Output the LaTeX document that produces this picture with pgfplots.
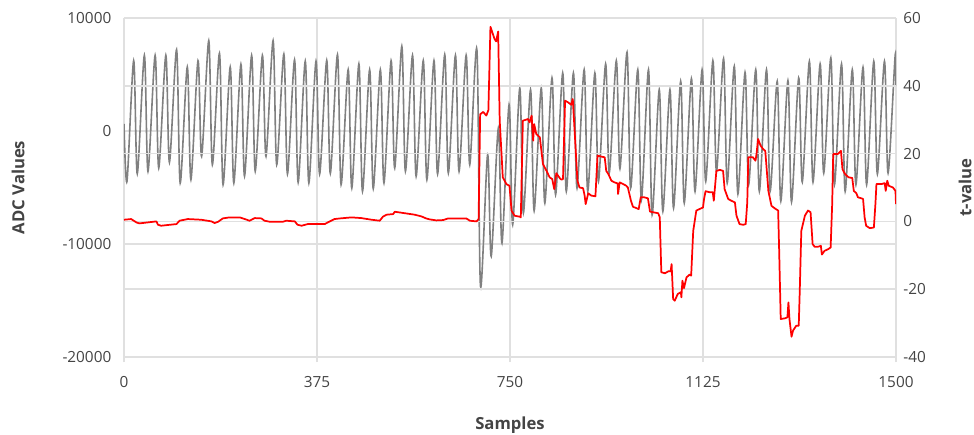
\documentclass[border=0pt]{standalone}
\usepackage{fontspec}
\setmainfont{Open Sans}
\usepackage{pgfplots}
\pgfplotsset{compat=1.18}
\definecolor{gridgray}{RGB}{224,224,224}
\definecolor{sig}{RGB}{128,128,128}
\definecolor{txt}{RGB}{68,68,68}

\pgfplotsset{
  base/.style={
    scale only axis, width=579pt, height=254.25pt,
    xmin=0, xmax=1500,
    axis line style={draw=none},
    grid style={gridgray, line width=1.1pt},
    tick label style={font=\fontsize{11.5}{13}\selectfont, text=txt},
    label style={font=\fontsize{12.5}{14}\selectfont\bfseries, text=txt},
    scaled y ticks=false,
    /pgf/number format/.cd, 1000 sep={}, assume math mode=true,
  },
}

\begin{document}
\begin{tikzpicture}
\path[use as bounding box] (-93pt,-58.5pt) rectangle (637.5pt,267.75pt);

% ADC signal, left axis
\begin{axis}[base,
  ymin=-20000, ymax=10000,
  xtick={0,375,750,1125,1500},
  ytick={-20000,-10000,0,10000},
  xmajorgrids, ymajorgrids,
  xtick pos=bottom, tick align=outside,
  major x tick style={gridgray, line width=1.1pt},
  major tick length=4pt,
  major y tick style={draw=none},
  xticklabel style={yshift=-7pt},
  yticklabel style={xshift=-2pt},
  xlabel={Samples}, ylabel={ADC Values},
  xlabel style={at={(axis description cs:0.5,-0.2006)}, anchor=center},
  ylabel style={at={(axis description cs:-0.1373,0.5)}, anchor=center},
]
\addplot[sig, line width=1.2pt, smooth, tension=0.5] coordinates {
(0,620) (5.8,-4455)
(18.8,6225) (25.8,-3776) (39.6,6697) (46.6,-3570) (60.5,6697) (67.5,-3275)
(81.3,6697) (88.3,-2773) (102.2,7198) (109.2,-4602) (123.0,5664) (130.0,-4307)
(143.8,6225) (150.8,-2242) (164.7,7995) (171.7,-2980) (185.5,6873) (192.5,-4750)
(206.4,5660) (213.4,-4602) (227.2,5900) (234.2,-4000) (248.0,6690) (255.0,-3560)
(268.9,6690) (275.9,-2242) (289.7,7995) (296.7,-2980) (310.6,6800) (317.6,-3805)
(331.4,6300) (338.4,-4543) (352.2,6180) (359.2,-4602) (373.1,6180) (380.1,-3805)
(393.9,6250) (400.9,-3746) (414.8,6755) (421.8,-4750) (435.6,5428) (442.6,-5044)
(456.4,5930) (463.4,-5340) (477.3,5428) (484.3,-5104) (498.1,5428) (505.1,-4602)
(519.0,6225) (526.0,-3275) (539.8,7493) (546.8,-3570) (560.6,6697) (567.6,-4012)
(581.5,6225) (588.5,-4307) (602.3,6225) (609.3,-3805) (623.2,6755) (630.2,-3717)
(644.0,6697) (651.0,-3570) (664.8,6697) (671.8,-2980) (685.7,7198) (692.7,-13747)
(706.5,-2095) (713.5,-11092) (727.4,266) (734.4,-9912) (748.2,2330) (755.2,-8290)
(769.0,3806) (776.0,-7257) (789.9,3658) (796.9,-7050) (810.7,3806) (817.7,-6372)
(831.6,4690) (838.6,-5635) (852.4,5133) (859.4,-5340) (873.2,5133) (880.2,-5044)
(894.1,5428) (901.1,-5340) (914.9,5133) (921.9,-4455) (935.8,5930) (942.8,-3717)
(956.6,6225) (963.6,-3334) (977.4,6962) (984.4,-5044) (998.3,5428) (1005.3,-6077)
(1019.1,5428) (1026.1,-7405) (1040.0,3658) (1047.0,-7110) (1060.8,3658) (1067.8,-6815)
(1081.6,4396) (1088.6,-6372) (1102.5,4632) (1109.5,-5340) (1123.3,5428) (1130.3,-4455)
(1144.2,6225) (1151.2,-3570) (1165.0,6402) (1172.0,-4602) (1185.8,5723) (1192.8,-5575)
(1206.7,5192) (1213.7,-4750) (1227.5,5428) (1234.5,-5340) (1248.4,5428) (1255.4,-5340)
(1269.2,4396) (1276.2,-6200) (1290.0,4455) (1297.0,-6284) (1310.9,4690) (1317.9,-4514)
(1331.7,6166) (1338.7,-4514) (1352.6,5930) (1359.6,-3717) (1373.4,6460) (1380.4,-4750)
(1394.2,5930) (1401.2,-5340) (1415.1,5428) (1422.1,-4750) (1435.9,5635) (1442.9,-4750)
(1456.8,6166) (1463.8,-3805) (1477.6,6166) (1484.6,-3717) (1498.4,6697) (1500,4000)
};
\end{axis}

% t-value, right axis
\begin{axis}[base,
  ymin=-40, ymax=60,
  ytick={-40,-20,0,20,40,60},
  xtick=\empty,
  axis y line*=right, axis x line=none,
  major y tick style={draw=none},
  yticklabel style={xshift=2pt},
  ymajorgrids,
  ylabel={t-value},
  ylabel style={at={(axis description cs:1.0894,0.5)}, anchor=center},
]
\addplot[red, line width=1.3pt, line join=round] coordinates {
(0,0.49) (14,0.69) (24,-0.3) (30,-0.59) (63,0) (66,-0.98) (72,-1.28) (102,-0.79)
(108,0.2) (124,0.69) (150,0.49) (170,0) (176,-0.49) (183,-0.1) (192,0.88) (205,1.18)
(225,1.18) (231,0.88) (244,0.2) (254,0.98) (267,0.88) (273,0.2) (283,-0.1) (309,-0.1)
(315,0.2) (332,0) (337,-0.98) (345,-1.28) (357,-0.79) (390,-0.79) (396,-0.3) (409,0.69)
(420,0.88) (442,1.18) (461,0.98) (481,0.49) (497,0.2) (503,1.38) (510,1.97) (523,2.16)
(526,2.85) (539,2.56) (565,1.97) (578,1.47) (587,0.88) (594,0.59) (607,0.29) (620,0.39)
(630,0.88) (655,0.88) (665,0.88) (672,0.2) (685,0) (689,0.69) (692,31.6) (698,32.3)
(704,31.2) (708,32.8) (712,57.4) (720,53.8) (723,53.1) (727,56.0) (730,29.7) (736,13.0)
(743,11.0) (749,10.5) (753,3.15) (759,1.67) (769,1.38) (771,1.18) (775,29.7) (785,30.2)
(788,29.2) (792,31.2) (795,23.8) (797,28.7) (801,25.8) (808,24.8) (814,16.9) (821,14.9)
(827,13.0) (832,12.5) (836,9.5) (840,14.2) (847,12.7) (850,12.3) (853,12.5) (857,35.6)
(863,35.1) (869,34.4) (872,36.1) (877,22.8) (881,12.0) (885,10.0) (892,9.8) (895,7.6)
(897,5.1) (902,8.3) (908,7.6) (916,7.4) (920,19.4) (928,19.1) (934,18.9) (937,14.9)
(941,14.0) (947,12.0) (953,11.5) (959,11.2) (960,8.1) (963,11.5) (970,11.0) (976,10.5)
(979,10.0) (985,6.1) (989,4.3) (996,3.9) (1000,3.6) (1004,7.1) (1011,7.1) (1018,6.8)
(1022,2.9) (1028,2.7) (1038,2.4) (1041,1.2) (1044,-15.0) (1051,-15.3) (1058,-14.7)
(1062,-14.75) (1064,-12.6) (1067,-22.9) (1070,-23.4) (1076,-21.4) (1082,-20.9)
(1083,-22.4) (1085,-17.5) (1088,-19.7) (1093,-16.5) (1099,-15.7) (1102,-16.0)
(1106,-2.8) (1112,3.2) (1122,3.9) (1125,4.1) (1127,6.6) (1130,8.9) (1138,8.6) (1144,8.6)
(1146,6.1) (1151,14.9) (1158,15.2) (1164,14.9) (1167,9.5) (1174,6.6) (1180,6.1) (1187,5.6)
(1190,1.7) (1196,-0.8) (1203,-1.0) (1208,-0.8) (1211,5.6) (1213,18.9) (1222,18.9)
(1227,17.9) (1229,19.9) (1232,24.3) (1237,22.3) (1242,21.3) (1246,20.8) (1252,9.0)
(1258,4.6) (1264,3.9) (1271,3.2) (1273,-8.7) (1276,-28.8) (1284,-28.6) (1289,-28.3)
(1291,-23.9) (1293,-28.8) (1297,-34.0) (1300,-32.2) (1306,-30.8) (1311,-30.8)
(1313,-20.5) (1316,-2.8) (1323,1.7) (1329,3.2) (1334,2.7) (1338,-6.7) (1342,-7.5)
(1348,-7.5) (1354,-7.2) (1356,-9.8) (1361,-8.7) (1368,-8.2) (1373,-7.7) (1376,5.1)
(1378,19.9) (1387,19.9) (1393,20.8) (1396,15.4) (1400,14.2) (1404,13.5) (1408,13.0)
(1415,12.8) (1418,9.0) (1423,8.3) (1426,7.1) (1433,6.8) (1436,6.6) (1439,1.2) (1442,-1.3)
(1449,-2.0) (1457,-1.8) (1460,5.1) (1462,11.0) (1472,11.0) (1478,11.3) (1480,9.0)
(1483,12.0) (1486,10.5) (1494,10.0) (1499,9.0) (1500,5.1)
};
\end{axis}
\end{tikzpicture}
\end{document}
